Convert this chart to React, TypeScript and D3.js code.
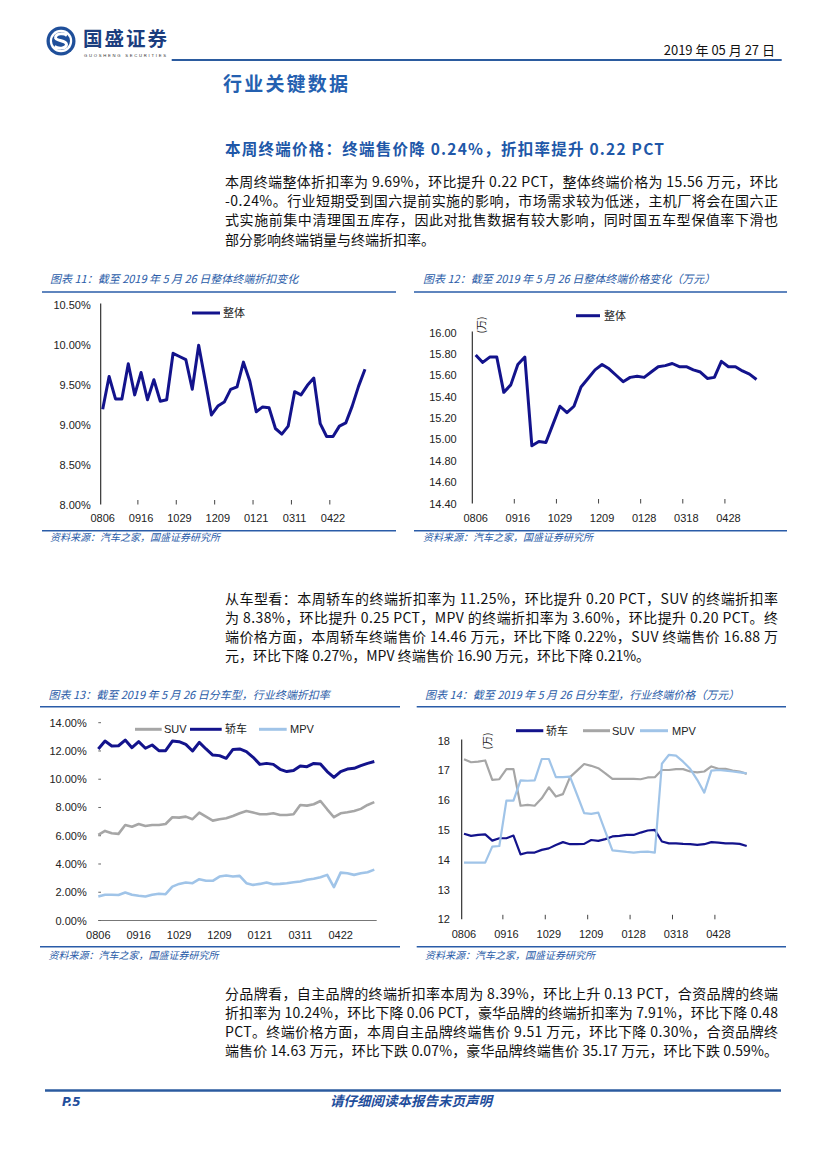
import React from 'react';
import * as d3 from 'd3';

const CJK = '"Noto Sans CJK SC", "Noto Sans", sans-serif';
const SANS = '"Liberation Sans", Arial, sans-serif';
const BLUE = '#2a5ca8';
const NAVY = '#13138c';
const GRAY = '#a6a6a6';
const LIGHT = '#a0c4e8';

// ---- data ----
const labelsA = ['0806', '0916', '1029', '1209', '0121', '0311', '0422'];
const labelsB = ['0806', '0916', '1029', '1209', '0128', '0318', '0428'];

const rateTotal = [9.19, 9.60, 9.32, 9.32, 9.76, 9.37, 9.65, 9.31, 9.56, 9.29, 9.31, 9.89, 9.85, 9.81, 9.44, 9.99, 9.56, 9.12, 9.23, 9.28, 9.44, 9.47, 9.78, 9.54, 9.16, 9.22, 9.21, 8.95, 8.88, 8.98, 9.41, 9.37, 9.49, 9.58, 9.01, 8.85, 8.85, 8.98, 9.02, 9.23, 9.48, 9.69];
const priceTotal = [15.79, 15.72, 15.77, 15.77, 15.44, 15.51, 15.70, 15.77, 14.94, 14.98, 14.97, 15.14, 15.31, 15.25, 15.31, 15.49, 15.57, 15.65, 15.70, 15.66, 15.60, 15.54, 15.58, 15.59, 15.58, 15.63, 15.68, 15.69, 15.71, 15.68, 15.68, 15.65, 15.63, 15.57, 15.58, 15.73, 15.68, 15.68, 15.64, 15.61, 15.56];

const sedanRate = [12.14, 12.70, 12.35, 12.37, 12.77, 12.23, 12.66, 12.19, 12.42, 12.02, 12.02, 12.70, 12.66, 12.47, 12.00, 12.61, 12.14, 11.71, 11.67, 11.48, 12.11, 12.14, 11.95, 11.55, 11.05, 11.12, 11.05, 10.70, 10.54, 10.61, 10.94, 10.89, 11.12, 11.08, 10.54, 10.13, 10.54, 10.72, 10.77, 10.96, 11.12, 11.25];
const suvRate = [6.06, 6.34, 6.18, 6.13, 6.76, 6.64, 6.83, 6.69, 6.76, 6.76, 6.83, 7.31, 7.28, 7.35, 7.17, 7.64, 7.35, 7.07, 7.17, 7.24, 7.40, 7.59, 7.75, 7.64, 7.52, 7.52, 7.59, 7.47, 7.47, 7.52, 8.18, 8.13, 8.23, 8.46, 7.87, 7.31, 7.59, 7.66, 7.75, 7.90, 8.18, 8.38];
const mpvRate = [1.70, 1.82, 1.82, 1.80, 1.98, 1.82, 1.75, 1.70, 1.82, 1.89, 1.86, 2.40, 2.59, 2.69, 2.64, 2.92, 2.81, 2.81, 3.11, 3.18, 3.11, 3.16, 2.64, 2.52, 2.59, 2.69, 2.57, 2.59, 2.64, 2.71, 2.76, 2.88, 2.95, 3.06, 3.23, 2.36, 3.39, 3.34, 3.23, 3.34, 3.42, 3.60];

const sedanPrice = [14.87, 14.80, 14.83, 14.85, 14.64, 14.72, 14.72, 14.81, 14.18, 14.24, 14.24, 14.33, 14.38, 14.49, 14.59, 14.52, 14.52, 14.53, 14.66, 14.63, 14.69, 14.78, 14.80, 14.83, 14.83, 14.91, 14.98, 15.00, 14.61, 14.55, 14.55, 14.53, 14.52, 14.50, 14.52, 14.59, 14.57, 14.55, 14.55, 14.53, 14.46];
const suvPrice = [17.37, 17.27, 17.29, 17.33, 16.68, 16.70, 17.04, 17.04, 15.81, 15.84, 15.81, 16.06, 16.43, 16.12, 16.20, 16.77, 16.99, 17.21, 17.15, 17.07, 16.90, 16.71, 16.71, 16.71, 16.71, 16.70, 16.76, 16.77, 17.01, 17.01, 17.04, 17.04, 16.96, 16.93, 16.96, 17.13, 17.05, 17.05, 16.99, 16.96, 16.88];
const mpvPrice = [13.90, 13.90, 13.90, 13.90, 14.44, 14.46, 15.98, 15.98, 16.66, 16.65, 16.66, 17.38, 17.38, 16.77, 16.77, 16.79, 16.18, 15.56, 15.54, 15.58, 14.94, 14.31, 14.29, 14.26, 14.24, 14.26, 14.27, 14.24, 17.22, 17.52, 17.49, 17.29, 17.05, 16.68, 16.25, 16.99, 17.01, 16.99, 16.96, 16.93, 16.90];

const ticksRate1 = [10.5, 10, 9.5, 9, 8.5, 8];
const ticksPrice1 = [16, 15.8, 15.6, 15.4, 15.2, 15, 14.8, 14.6, 14.4];
const ticksRate2 = [14, 12, 10, 8, 6, 4, 2, 0];
const ticksPrice2 = [18, 17, 16, 15, 14, 13, 12];

const para1 = [
  '本周终端整体折扣率为 9.69%，环比提升 0.22 PCT，整体终端价格为 15.56 万元，环比',
  '-0.24%。行业短期受到国六提前实施的影响，市场需求较为低迷，主机厂将会在国六正',
  '式实施前集中清理国五库存，因此对批售数据有较大影响，同时国五车型保值率下滑也',
  '部分影响终端销量与终端折扣率。',
];
const para2 = [
  '从车型看：本周轿车的终端折扣率为 11.25%，环比提升 0.20 PCT，SUV 的终端折扣率',
  '为 8.38%，环比提升 0.25 PCT，MPV 的终端折扣率为 3.60%，环比提升 0.20 PCT。终',
  '端价格方面，本周轿车终端售价 14.46 万元，环比下降 0.22%，SUV 终端售价 16.88 万',
  '元，环比下降 0.27%，MPV 终端售价 16.90 万元，环比下降 0.21%。',
];
const para3 = [
  '分品牌看，自主品牌的终端折扣率本周为 8.39%，环比上升 0.13 PCT，合资品牌的终端',
  '折扣率为 10.24%，环比下降 0.06 PCT，豪华品牌的终端折扣率为 7.91%，环比下降 0.48',
  'PCT。终端价格方面，本周自主品牌终端售价 9.51 万元，环比下降 0.30%，合资品牌终',
  '端售价 14.63 万元，环比下跌 0.07%，豪华品牌终端售价 35.17 万元，环比下跌 0.59%。',
];

type Series = { name: string; values: number[]; color: string; width: number };
type LegendItem = { name: string; color: string; x1: number; x2: number; tx: number };

type ChartProps = {
  n: number;
  xRange: [number, number];
  yDomain: [number, number];
  yRange: [number, number];
  yTicks: number[];
  yFmt: (v: number) => string;
  yLabelX: number;
  yAxisX?: number;
  yTickMarks?: boolean;
  xAxisLine?: [number, number];
  labels: string[];
  labelY: number;
  series: Series[];
  legend: LegendItem[];
  legendY: number;
  unit?: [number, number];
};

function LineChart(p: ChartProps) {
  const x = d3.scaleLinear().domain([0, p.n - 1]).range(p.xRange);
  const y = d3.scaleLinear().domain(p.yDomain).range(p.yRange);
  const base = y(p.yDomain[0]);
  const top = y(p.yDomain[1]);
  const ln = d3.line<number>().x((_, i) => x(i)).y((d) => y(d));
  const tickIdx = p.labels.map((_, k) => k * 6 - 0.5).filter((v) => v > 0 && v < p.n - 1);
  return (
    <g>
      {p.yAxisX !== undefined && (
        <line x1={p.yAxisX} x2={p.yAxisX} y1={top - 1} y2={base} stroke="#222" strokeWidth={1.1} />
      )}
      {p.xAxisLine && (
        <line x1={p.xAxisLine[0]} x2={p.xAxisLine[1]} y1={base} y2={base} stroke="#777" strokeWidth={1} />
      )}
      {p.yTickMarks &&
        p.yTicks.map((t) => (
          <line key={'ym' + t} x1={98.3} x2={101} y1={y(t)} y2={y(t)} stroke="#666" strokeWidth={1} />
        ))}
      {p.yTicks.map((t) => (
        <text key={'yl' + t} x={p.yLabelX} y={y(t) + 4} textAnchor="end" fontFamily={SANS} fontSize={11} fill="#222">
          {p.yFmt(t)}
        </text>
      ))}
      {!p.xAxisLine &&
        tickIdx.map((t) => (
          <line key={'xt' + t} x1={x(t)} x2={x(t)} y1={base - 4.5} y2={base} stroke="#444" strokeWidth={1} />
        ))}
      {p.labels.map((l, k) => (
        <text key={'xl' + k} x={x(k * 6)} y={p.labelY} textAnchor="middle" fontFamily={SANS} fontSize={11} fill="#222">
          {l}
        </text>
      ))}
      {p.series.map((s) => (
        <path key={s.name} d={ln(s.values) || ''} fill="none" stroke={s.color} strokeWidth={s.width} strokeLinejoin="round" />
      ))}
      {p.legend.map((l) => (
        <g key={'lg' + l.name}>
          <line x1={l.x1} x2={l.x2} y1={p.legendY} y2={p.legendY} stroke={l.color} strokeWidth={3} />
          <text x={l.tx} y={p.legendY + 4} fontFamily={/^[A-Z]+$/.test(l.name) ? SANS : CJK} fontSize={11} fill="#222">
            {l.name}
          </text>
        </g>
      ))}
      {p.unit && (
        <text
          transform={`translate(${p.unit[0]},${p.unit[1]}) rotate(-90)`}
          textAnchor="middle"
          y={3.5}
          fontFamily={CJK}
          fontSize={10}
          fill="#222"
        >
          (万)
        </text>
      )}
    </g>
  );
}

function Para({ lines, x, y0, step, width }: { lines: string[]; x: number; y0: number; step: number; width: number }) {
  return (
    <g fontFamily={CJK} fontSize={14} fill="#111">
      {lines.map((l, i) => (
        <text
          key={i}
          x={x}
          y={y0 + i * step}
          {...(i < lines.length - 1 || l.length > 44 ? { textLength: width, lengthAdjust: 'spacing' } : {})}
        >
          {l}
        </text>
      ))}
    </g>
  );
}

function ChartFrame({ x1, x2, titleX, title, topY, botY, titleY, srcY }: any) {
  return (
    <g>
      <text x={titleX} y={titleY} fontFamily={CJK} fontSize={11} fontStyle="italic" fill={BLUE}>
        {title}
      </text>
      <line x1={x1} x2={x2} y1={topY} y2={topY} stroke={BLUE} strokeWidth={1.5} />
      <line x1={x1} x2={x2} y1={botY} y2={botY} stroke={BLUE} strokeWidth={1.5} />
      <text x={titleX} y={srcY} fontFamily={CJK} fontSize={10} fontStyle="italic" fill={BLUE}>
        资料来源：汽车之家，国盛证券研究所
      </text>
    </g>
  );
}

export default function App() {
  return (
    <svg width={827} height={1169} style={{ position: 'absolute', left: 0, top: 0, background: '#fff' }}>
      <rect width={827} height={1169} fill="#fff" />
      {/* header */}
      <g>
        <circle cx={61} cy={41} r={14.5} fill="#1f4f9a" />
        <circle cx={61} cy={41} r={11.2} fill="#fff" />
        <circle cx={61} cy={41} r={9} fill="#1f4f9a" />
        <path d="M67,35.5 C64,33 56,33 55.5,37.5 C55,41 66.5,40 66.5,44.5 C66,49 58,49 54.5,46.5" fill="none" stroke="#fff" strokeWidth={3} />
        <text x={83} y={46} fontFamily={CJK} fontSize={19.5} fontWeight="bold" fill="#1b3d7e" textLength={84} lengthAdjust="spacing">
          国盛证券
        </text>
        <text x={84} y={56.5} fontFamily={SANS} fontSize={4.2} fill="#333" textLength={82} lengthAdjust="spacing">
          GUOSHENG SECURITIES
        </text>
        <text x={775} y={55} textAnchor="end" fontFamily={CJK} fontSize={13} fill="#111">
          2019 年 05 月 27 日
        </text>
        <line x1={171.7} x2={781.7} y1={60} y2={60} stroke="#2b5b9f" strokeWidth={2} />
        <text x={223} y={90.5} fontFamily={CJK} fontSize={19} fontWeight="bold" fill="#2460b0" textLength={125} lengthAdjust="spacing">
          行业关键数据
        </text>
        <text x={225} y={154.5} fontFamily={CJK} fontSize={15.5} fontWeight="bold" fill="#2057a8" textLength={439} lengthAdjust="spacing">
          本周终端价格：终端售价降 0.24%，折扣率提升 0.22 PCT
        </text>
      </g>

      <Para lines={para1} x={225} y0={186.5} step={19.4} width={553} />

      <ChartFrame x1={42} x2={396} titleX={50} title="图表 11：截至 2019 年 5 月 26 日整体终端折扣变化" topY={292} botY={530.7} titleY={283} srcY={541} />
      <ChartFrame x1={414} x2={787} titleX={423} title="图表 12：截至 2019 年 5 月 26 日整体终端价格变化（万元）" topY={292} botY={530.7} titleY={283} srcY={541} />

      <LineChart
        n={rateTotal.length}
        xRange={[102.7, 365]}
        yDomain={[8, 10.5]}
        yRange={[504.5, 304.5]}
        yTicks={ticksRate1}
        yFmt={(v) => v.toFixed(2) + '%'}
        yLabelX={90.7}
        yAxisX={100.7}
        labels={labelsA}
        labelY={522}
        series={[{ name: '整体', values: rateTotal, color: NAVY, width: 3 }]}
        legend={[{ name: '整体', color: NAVY, x1: 192, x2: 220, tx: 223 }]}
        legendY={313}
      />
      <LineChart
        n={priceTotal.length}
        xRange={[475.7, 756.5]}
        yDomain={[14.4, 16]}
        yRange={[503.5, 332.5]}
        yTicks={ticksPrice1}
        yFmt={(v) => v.toFixed(2)}
        yLabelX={456.7}
        yAxisX={472.3}
        labels={labelsB}
        labelY={522}
        series={[{ name: '整体', values: priceTotal, color: NAVY, width: 3 }]}
        legend={[{ name: '整体', color: NAVY, x1: 576, x2: 600, tx: 604 }]}
        legendY={315.7}
        unit={[481.5, 325]}
      />

      <Para lines={para2} x={225} y0={603.5} step={19.2} width={553} />

      <ChartFrame x1={40} x2={400} titleX={48.5} title="图表 13：截至 2019 年 5 月 26 日分车型，行业终端折扣率" topY={706.7} botY={946.7} titleY={699} srcY={959} />
      <ChartFrame x1={416.7} x2={786} titleX={425} title="图表 14：截至 2019 年 5 月 26 日分车型，行业终端价格（万元）" topY={706.7} botY={946.7} titleY={699} srcY={959} />

      <LineChart
        n={sedanRate.length}
        xRange={[98.3, 374.3]}
        yDomain={[0, 14]}
        yRange={[920.5, 722.7]}
        yTicks={ticksRate2}
        yFmt={(v) => v.toFixed(2) + '%'}
        yLabelX={86.7}
        yTickMarks
        xAxisLine={[98.3, 376.7]}
        labels={labelsA}
        labelY={939}
        series={[
          { name: 'SUV', values: suvRate, color: GRAY, width: 2.6 },
          { name: '轿车', values: sedanRate, color: NAVY, width: 3 },
          { name: 'MPV', values: mpvRate, color: LIGHT, width: 2.6 },
        ]}
        legend={[
          { name: 'SUV', color: GRAY, x1: 135, x2: 161.7, tx: 164 },
          { name: '轿车', color: NAVY, x1: 190, x2: 221.7, tx: 225 },
          { name: 'MPV', color: LIGHT, x1: 259, x2: 286.7, tx: 290 },
        ]}
        legendY={729.3}
      />
      <LineChart
        n={sedanPrice.length}
        xRange={[464, 746.7]}
        yDomain={[12, 18]}
        yRange={[919.3, 740.5]}
        yTicks={ticksPrice2}
        yFmt={(v) => String(v)}
        yLabelX={450}
        yAxisX={461.7}
        labels={labelsB}
        labelY={938}
        series={[
          { name: '轿车', values: sedanPrice, color: NAVY, width: 2.2 },
          { name: 'SUV', values: suvPrice, color: GRAY, width: 2.2 },
          { name: 'MPV', values: mpvPrice, color: LIGHT, width: 2.2 },
        ]}
        legend={[
          { name: '轿车', color: NAVY, x1: 516, x2: 543.3, tx: 546 },
          { name: 'SUV', color: GRAY, x1: 583, x2: 610, tx: 612 },
          { name: 'MPV', color: LIGHT, x1: 640, x2: 668, tx: 672 },
        ]}
        legendY={730.7}
        unit={[487, 741]}
      />

      <Para lines={para3} x={225} y0={998.5} step={19} width={553} />

      {/* footer */}
      <line x1={45} x2={781} y1={1090.5} y2={1090.5} stroke="#2b5b9f" strokeWidth={2.5} />
      <text x={62} y={1106} fontFamily='"DejaVu Sans", sans-serif' fontSize={12} fontWeight="bold" fontStyle="italic" fill="#1f4e9c">
        P.5
      </text>
      <text x={411} y={1106} textAnchor="middle" fontFamily={CJK} fontSize={13.5} fontWeight="bold" fontStyle="italic" fill="#1f4e9c">
        请仔细阅读本报告末页声明
      </text>
    </svg>
  );
}
